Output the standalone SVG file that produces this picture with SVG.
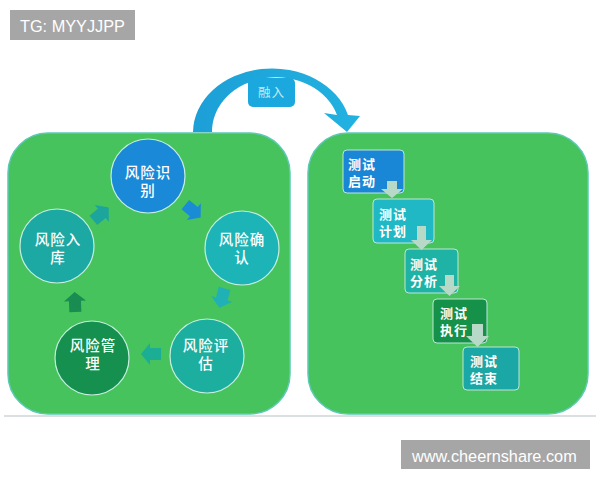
<svg xmlns="http://www.w3.org/2000/svg" width="600" height="480" viewBox="0 0 600 480">
<defs>
<style>
.panel{fill:#46c35c;stroke:#5cc9b4;stroke-width:1.5}
.circ{stroke:#c6eee0;stroke-width:1.2}
.ct{font-family:"Noto Sans CJK SC","Noto Sans",sans-serif;font-size:14.5px;font-weight:500;fill:#ffffff;text-anchor:middle;letter-spacing:1px}
.box{stroke:#bfe5da;stroke-width:1}
.bt{font-family:"Noto Sans CJK SC","Noto Sans",sans-serif;font-size:13px;font-weight:700;fill:#ffffff;letter-spacing:1px}
.down{fill:#b7dac8}
.wm{fill:#a6a6a6}
.wmt{font-family:"Liberation Sans",Arial,sans-serif;font-size:16.3px;fill:#ffffff}
</style>
<polygon id="blk" points="-10,-6 1,-6 1,-11 10,0 1,11 1,6 -10,6"/>
<linearGradient id="arcg" x1="0" y1="0" x2="1" y2="0">
<stop offset="0" stop-color="#1c9fd7"/>
<stop offset="1" stop-color="#22b2e0"/>
</linearGradient>
</defs>
<rect width="600" height="480" fill="#ffffff"/>
<line x1="4" y1="416" x2="596" y2="416" stroke="#dadfe2" stroke-width="2"/>

<g id="panel-left"><rect class="panel" x="8" y="133" width="282" height="281" rx="40"/></g>
<g id="panel-right"><rect class="panel" x="308" y="133" width="280" height="281" rx="40"/></g>

<g id="connectors">
<path d="M193,132 A79,64 0 0 1 348,115 L360,116 L347,132 L324,113 L337,115 A64,54 0 0 0 212,132 Z" fill="url(#arcg)"/>
<use href="#blk" fill="#1a8cd6" transform="translate(193,211) rotate(40)"/>
<use href="#blk" fill="#1fb1b6" transform="translate(222,298) rotate(105)"/>
<use href="#blk" fill="#1bae95" transform="translate(151,354) rotate(180)"/>
<use href="#blk" fill="#198c52" transform="translate(75,302) rotate(-92)"/>
<use href="#blk" fill="#1ca59c" transform="translate(101,214) rotate(-40)"/>
</g>

<g id="label-rongru">
<rect x="248" y="78" width="47" height="29" rx="5" fill="#1ba8de"/>
<text x="271.5" y="97" font-family="'Noto Sans CJK SC','Noto Sans',sans-serif" font-size="12.5" fill="#c5ebf6" text-anchor="middle" letter-spacing="1">融入</text>
</g>

<g id="risk-identify"><circle class="circ" cx="148" cy="176" r="37" fill="#1a8ad8"/><text class="ct"><tspan x="148" y="178">风险识</tspan><tspan x="148" y="196">别</tspan></text></g>
<g id="risk-confirm"><circle class="circ" cx="242" cy="248" r="37" fill="#1db4b8"/><text class="ct"><tspan x="242" y="245">风险确</tspan><tspan x="242" y="263">认</tspan></text></g>
<g id="risk-assess"><circle class="circ" cx="207" cy="356" r="37" fill="#1cae9f"/><text class="ct"><tspan x="206" y="351">风险评</tspan><tspan x="206" y="369">估</tspan></text></g>
<g id="risk-manage"><circle class="circ" cx="92" cy="358" r="37" fill="#15904e"/><text class="ct"><tspan x="93" y="351">风险管</tspan><tspan x="93" y="369">理</tspan></text></g>
<g id="risk-store"><circle class="circ" cx="57" cy="246" r="37" fill="#1ca9a4"/><text class="ct"><tspan x="58" y="245">风险入</tspan><tspan x="58" y="263">库</tspan></text></g>

<g id="test-start"><rect class="box" x="343" y="150" width="61" height="43" rx="4" fill="#1a87d6"/><text class="bt"><tspan x="348" y="169">测试</tspan><tspan x="348" y="186">启动</tspan></text></g>
<g id="test-plan"><rect class="box" x="373" y="199" width="61" height="44" rx="4" fill="#20b8c4"/><text class="bt"><tspan x="379" y="219">测试</tspan><tspan x="379" y="236">计划</tspan></text></g>
<g id="test-analyze"><rect class="box" x="405" y="249" width="53" height="44" rx="4" fill="#1fb3a6"/><text class="bt"><tspan x="410" y="269">测试</tspan><tspan x="410" y="286">分析</tspan></text></g>
<g id="test-exec"><rect class="box" x="433" y="299" width="54" height="44" rx="4" fill="#15914a"/><text class="bt"><tspan x="440" y="318">测试</tspan><tspan x="440" y="335">执行</tspan></text></g>
<g id="test-end"><rect class="box" x="463" y="347" width="56" height="43" rx="4" fill="#1aa7a5"/><text class="bt"><tspan x="470" y="366">测试</tspan><tspan x="470" y="383">结束</tspan></text></g>

<g id="down-arrows">
<polygon class="down" points="387,181 397,181 397,189 403,189 392,198 381,189 387,189"/>
<polygon class="down" points="417,226 426,226 426,240 432,240 421.5,250 411,240 417,240"/>
<polygon class="down" points="445,275 454,275 454,286 460,286 449.5,296 439,286 445,286"/>
<polygon class="down" points="472,324 483,324 483,336 489,336 477.5,347 466,336 472,336"/>
</g>

<g id="wm-tg"><rect class="wm" x="10" y="10" width="125" height="30"/><text class="wmt" x="20" y="31.5">TG: MYYJJPP</text></g>
<g id="wm-site"><rect class="wm" x="401" y="440" width="189" height="29"/><text class="wmt" x="412" y="461.5">www.cheernshare.com</text></g>
</svg>
